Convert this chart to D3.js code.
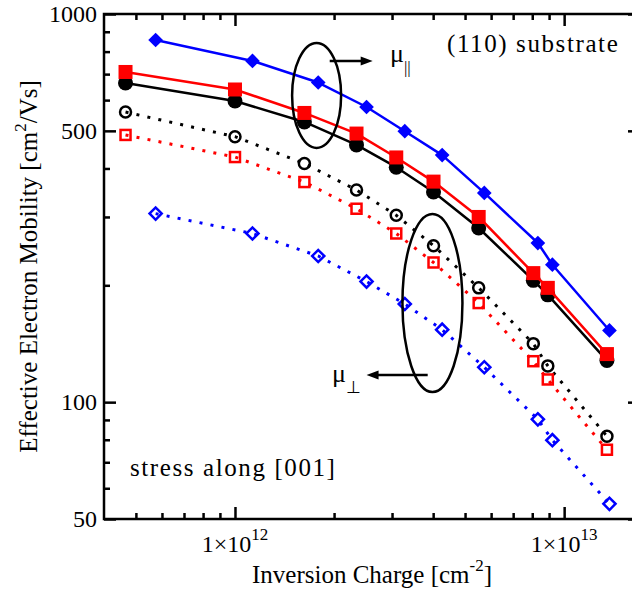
<!DOCTYPE html>
<html>
<head>
<meta charset="utf-8">
<script src="https://cdn.jsdelivr.net/npm/d3@7"></script>
<style>
  body { margin: 0; background: #fff; }
</style>
</head>
<body>
<div id="chart"></div>
<script>
////////////////////////////////////////////////////////////////////////
// Data

// inversion charge [cm^-2] for the black/red sets and the blue set
let chargeA = [4.65e11, 1.0e12, 1.625e12, 2.34e12, 3.09e12, 4.01e12, 5.50e12, 8.06e12, 8.92e12, 1.349e13];
let chargeB = [5.74e11, 1.13e12, 1.79e12, 2.51e12, 3.28e12, 4.26e12, 5.72e12, 8.32e12, 9.21e12, 1.373e13];

// mobility parallel to stress (solid, filled)
let parBlack = [664, 597, 527, 460, 403, 348, 281, 206, 189, 128];
let parRed = [709, 639, 556, 492, 427, 370, 300, 215, 197, 133];
let parBlue = [857, 757, 666, 576, 499, 433, 346, 257, 226, 153];

// mobility perpendicular to stress (dotted, open)
let perpBlack = [559, 483, 412, 352, 303, 253, 197, 141.5, 124, 81.7];
let perpRed = [488, 428, 369, 315, 272, 229, 180, 127.5, 114.4, 75.4];
let perpBlue = [306, 272, 238, 204.5, 179, 153.7, 123, 90.3, 79.8, 54.7];

// axis ticks
let xMajor = [1e12, 1e13];
let xMinor = [5e11, 6e11, 7e11, 8e11, 9e11, 2e12, 3e12, 4e12, 5e12, 6e12, 7e12, 8e12, 9e12];
let xLabels = ["12", "13"];
let yMajor = [50, 100, 500, 1000];
let yMinor = [60, 70, 80, 90, 200, 300, 400, 600, 700, 800, 900];

////////////////////////////////////////////////////////////////////////
// Layout

let width = 632;
let height = 594;
let plotLeft = 104, plotRight = 640, plotTop = 14, plotBottom = 519;

let svg = d3.select("#chart")
  .append("svg")
  .attr("width", width)
  .attr("height", height)
  .attr("font-family", "'Liberation Serif', Tinos, 'Times New Roman', Times, serif")
  .style("display", "block");

let xScale = d3.scaleLog()
  .domain([4e11, 1.7e13])
  .range([plotLeft, plotRight]);

let yScale = d3.scaleLog()
  .domain([50, 1000])
  .range([plotBottom, plotTop]);

////////////////////////////////////////////////////////////////////////
// Axes: inward ticks on all four sides, long major / short minor

function addAxis(axisFn, scale, values, size, pos, vertical) {
  let axis = axisFn(scale)
    .tickValues(values)
    .tickSize(size)
    .tickFormat("");
  let g = svg.append("g")
    .attr("transform", vertical ? "translate(" + pos + ",0)" : "translate(0," + pos + ")")
    .call(axis);
  g.attr("font-family", null);
  g.select(".domain").remove();
  g.selectAll("line").attr("stroke", "#000").attr("stroke-width", 2.5);
  return g;
}

addAxis(d3.axisBottom, xScale, xMajor, -12, plotBottom, false);
addAxis(d3.axisBottom, xScale, xMinor, -6, plotBottom, false);
addAxis(d3.axisTop, xScale, xMajor, -12, plotTop, false);
addAxis(d3.axisTop, xScale, xMinor, -6, plotTop, false);
addAxis(d3.axisLeft, yScale, yMajor, -12, plotLeft, true);
addAxis(d3.axisLeft, yScale, yMinor, -6, plotLeft, true);
addAxis(d3.axisRight, yScale, yMajor, -12, plotRight, true);
addAxis(d3.axisRight, yScale, yMinor, -6, plotRight, true);

// frame
svg.append("rect")
  .attr("x", plotLeft)
  .attr("y", plotTop)
  .attr("width", plotRight - plotLeft)
  .attr("height", plotBottom - plotTop)
  .attr("fill", "none")
  .attr("stroke", "#000")
  .attr("stroke-width", 2.5);

// y tick labels
svg.append("g")
  .selectAll("text")
  .data(yMajor)
  .enter()
  .append("text")
  .attr("x", plotLeft - 7)
  .attr("y", (d) => yScale(d))
  .attr("dy", "0.34em")
  .attr("text-anchor", "end")
  .attr("font-size", 24)
  .text((d) => d);

// x tick labels with superscript exponent
let xt = svg.append("g")
  .selectAll("text")
  .data(xMajor)
  .enter()
  .append("text")
  .attr("x", (d) => xScale(d))
  .attr("y", 552)
  .attr("text-anchor", "middle")
  .attr("font-size", 24);
xt.append("tspan").text("1\u00d710");
xt.append("tspan")
  .attr("dy", -12)
  .attr("font-size", 17)
  .text((d, i) => xLabels[i]);

// axis titles
let yTitle = svg.append("text")
  .attr("transform", "translate(37," + ((plotTop + plotBottom) / 2) + ") rotate(-90)")
  .attr("text-anchor", "middle")
  .attr("font-size", 25);
yTitle.append("tspan").text("Effective Electron Mobility [cm");
yTitle.append("tspan").attr("dy", -11).attr("font-size", 17).text("2");
yTitle.append("tspan").attr("dy", 11).text("/Vs]");

let xTitle = svg.append("text")
  .attr("x", (plotLeft + plotRight) / 2)
  .attr("y", 583)
  .attr("text-anchor", "middle")
  .attr("font-size", 25);
xTitle.append("tspan").text("Inversion Charge [cm");
xTitle.append("tspan").attr("dy", -12).attr("font-size", 17).text("-2");
xTitle.append("tspan").attr("dy", 12).text("]");

////////////////////////////////////////////////////////////////////////
// Series

let lineGen = d3.line()
  .x((d) => xScale(d[0]))
  .y((d) => yScale(d[1]));

function drawSeries(xs, ys, color, dotted, marker) {
  let pts = xs.map((x, i) => [x, ys[i]]);
  let path = svg.append("path")
    .datum(pts)
    .attr("fill", "none")
    .attr("stroke", color)
    .attr("d", lineGen);
  if (dotted) {
    path.attr("stroke-width", 3).attr("stroke-dasharray", "3 8.2");
  } else {
    path.attr("stroke-width", 2.5).attr("stroke-linejoin", "round");
  }

  let g = svg.append("g")
    .selectAll("g")
    .data(pts)
    .enter()
    .append("g")
    .attr("transform", (d) => "translate(" + xScale(d[0]) + "," + yScale(d[1]) + ")");

  let fill = dotted ? "none" : color;
  let sw = dotted ? 2.5 : 0;
  if (marker === "circle") {
    g.append("circle")
      .attr("r", dotted ? 5.5 : 7.5)
      .attr("fill", fill).attr("stroke", color).attr("stroke-width", sw);
  } else if (marker === "square") {
    let s = dotted ? 10 : 14;
    g.append("rect")
      .attr("x", -s / 2).attr("y", -s / 2)
      .attr("width", s).attr("height", s)
      .attr("fill", fill).attr("stroke", color).attr("stroke-width", sw);
  } else {
    let s = dotted ? 8.6 : 10.4;
    g.append("rect")
      .attr("x", -s / 2).attr("y", -s / 2)
      .attr("width", s).attr("height", s)
      .attr("transform", "rotate(45)")
      .attr("fill", fill).attr("stroke", color).attr("stroke-width", sw);
  }
}

drawSeries(chargeA, perpBlack, "#000", true, "circle");
drawSeries(chargeA, perpRed, "#ff0000", true, "square");
drawSeries(chargeB, perpBlue, "#0000ff", true, "diamond");
drawSeries(chargeA, parBlack, "#000", false, "circle");
drawSeries(chargeA, parRed, "#ff0000", false, "square");
drawSeries(chargeB, parBlue, "#0000ff", false, "diamond");

////////////////////////////////////////////////////////////////////////
// Annotations: ellipses around groups, arrows and labels

let ellipses = [
  { x: 1.77e12, y: 617, rx: 24.5, ry: 52.5 },
  { x: 3.98e12, y: 180, rx: 30, ry: 89 }
];

svg.append("g")
  .selectAll("ellipse")
  .data(ellipses)
  .enter()
  .append("ellipse")
  .attr("cx", (d) => xScale(d.x))
  .attr("cy", (d) => yScale(d.y))
  .attr("rx", (d) => d.rx)
  .attr("ry", (d) => d.ry)
  .attr("fill", "none")
  .attr("stroke", "#000")
  .attr("stroke-width", 2.5);

let arrows = [
  { x0: 1.94e12, x1: 2.62e12, y: 757 },
  { x0: 3.85e12, x1: 2.51e12, y: 117.4 }
];

arrows.forEach((a) => {
  let x0 = xScale(a.x0), x1 = xScale(a.x1), y = yScale(a.y);
  let dir = x1 > x0 ? 1 : -1;
  svg.append("line")
    .attr("x1", x0).attr("y1", y)
    .attr("x2", x1 - dir * 8).attr("y2", y)
    .attr("stroke", "#000")
    .attr("stroke-width", 2.5);
  svg.append("path")
    .attr("d", "M" + x1 + "," + y + "L" + (x1 - dir * 12) + "," + (y - 4.5) + "L" + (x1 - dir * 12) + "," + (y + 4.5) + "Z")
    .attr("fill", "#000");
});

// mu labels
let muPar = svg.append("text")
  .attr("x", 390)
  .attr("y", 62)
  .attr("font-size", 26);
muPar.append("tspan").text("\u03bc");
muPar.append("tspan").attr("dy", 11).attr("font-size", 17).text("||");

let muPerp = svg.append("text")
  .attr("x", 332)
  .attr("y", 382)
  .attr("font-size", 26);
muPerp.append("tspan").text("\u03bc");
muPerp.append("tspan").attr("dy", 11).attr("font-size", 17).text("\u22a5");

// text notes
svg.append("text")
  .attr("x", 447)
  .attr("y", 52)
  .attr("font-size", 25)
  .attr("letter-spacing", 1.6)
  .text("(110) substrate");

svg.append("text")
  .attr("x", 130)
  .attr("y", 476)
  .attr("font-size", 25)
  .attr("letter-spacing", 1.6)
  .text("stress along [001]");
</script>
</body>
</html>
